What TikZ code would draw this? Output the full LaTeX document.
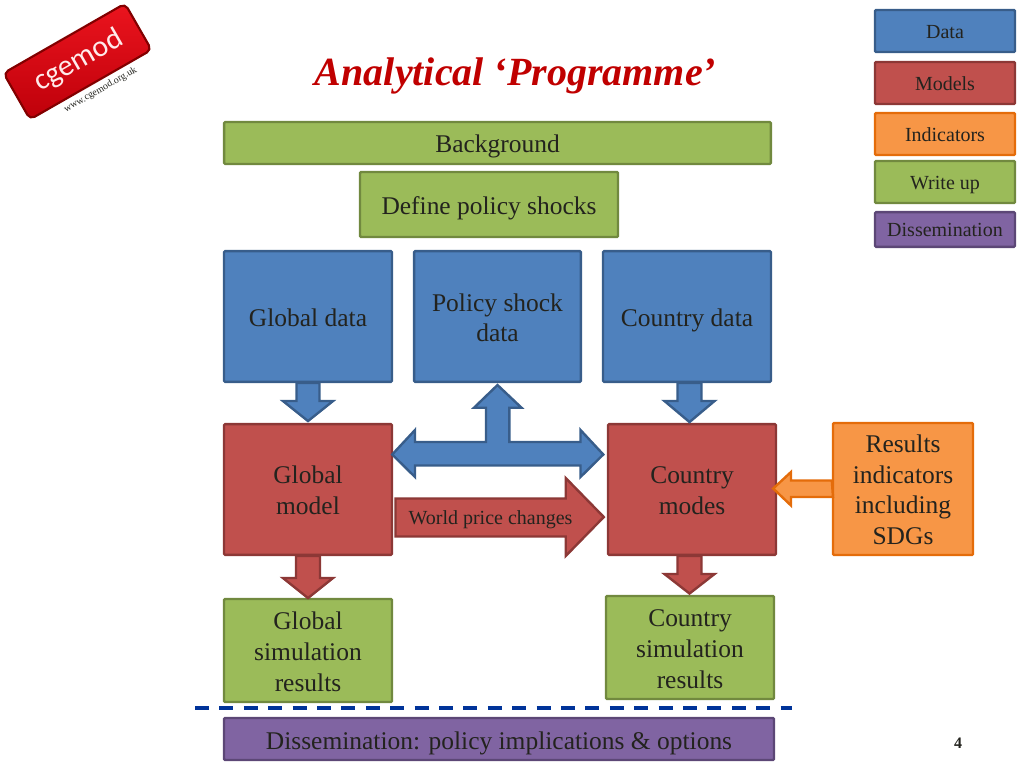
\documentclass[tikz,border=0pt]{standalone}
\usepackage{fontspec}
\setmainfont{Liberation Serif}
\newfontfamily\logofont{Carlito}
\usetikzlibrary{calc}
\definecolor{bluef}{RGB}{79,129,189}\definecolor{blued}{RGB}{56,93,138}
\definecolor{redf}{RGB}{192,80,77}\definecolor{redd}{RGB}{140,56,54}
\definecolor{greenf}{RGB}{155,187,89}\definecolor{greend}{RGB}{113,137,63}
\definecolor{purplef}{RGB}{128,100,162}\definecolor{purpled}{RGB}{92,71,118}
\definecolor{orangef}{RGB}{247,150,70}\definecolor{oranged}{RGB}{228,108,10}
\definecolor{titlered}{RGB}{192,0,0}\definecolor{dashblue}{RGB}{0,51,153}
\definecolor{inkc}{RGB}{35,35,30}
\definecolor{logotop}{RGB}{235,20,30}\definecolor{logobot}{RGB}{190,0,10}\definecolor{logoedge}{RGB}{130,0,0}
\tikzset{
 x=0.75pt,y=-0.75pt,
 boxbase/.style={rectangle,line width=1.8pt,rounded corners=0.8pt,inner sep=0pt,text=inkc,font=\fontsize{19.1}{23}\selectfont},
 bluebox/.style={boxbase,fill=bluef,draw=blued},
 redbox/.style={boxbase,fill=redf,draw=redd},
 greenbox/.style={boxbase,fill=greenf,draw=greend},
 purplebox/.style={boxbase,fill=purplef,draw=purpled},
 orangebox/.style={boxbase,fill=orangef,draw=oranged},
 legend/.style={font=\fontsize{15}{18}\selectfont,minimum width=105pt},
 bluearrow/.style={fill=bluef,draw=blued,line width=1.8pt,line join=miter},
 redarrow/.style={fill=redf,draw=redd,line width=1.8pt,line join=miter},
 orangearrow/.style={fill=orangef,draw=oranged,line width=1.8pt,line join=miter},
}
% text lowered inside its box, lines centred
\newcommand{\tx}[2][2.6pt]{\raisebox{-#1}[\height][\depth]{\begin{tabular}{@{}c@{}}#2\end{tabular}}}
% style, source anchor, x offset, half shaft, shaft length, half head, head length
\newcommand{\downblock}[7]{\draw[#1] ($(#2)+(#3,0)$) ++(-#4,0) -- ++(0,#5) -- ++(#4-#6,0) -- ++(#6,#7) -- ++(#6,-#7) -- ++(#4-#6,0) -- ++(0,-#5) -- cycle;}
\begin{document}
\begin{tikzpicture}
\useasboundingbox (0,0) rectangle (1024,768);
% logo
\node[rectangle,rotate=29.8,rounded corners=4pt,top color=logotop,bottom color=logobot,draw=logoedge,line width=1.6pt,minimum width=105pt,minimum height=40pt,inner sep=0pt] (logo) at (77.5,61.5) {};
\node[text=white!92!red,font=\logofont\fontsize{22.5}{24}\selectfont,rotate=29.8] (logoname) at (79,61) {cgemod};
\node[text=inkc,font=\fontsize{7.4}{10}\selectfont,rotate=29.8] (logourl) at (100.5,90) {www.cgemod.org.uk};
% title
\node[text=titlered,font=\bfseries\itshape\fontsize{30}{36}\selectfont] (title) at (515.5,76) {Analytical ‘Programme’};
% legend
\node[bluebox,legend,minimum height=31.5pt] (ldata) at (945,31) {\tx[2pt]{Data}};
\node[redbox,legend,minimum height=31.5pt] (lmodels) at (945,83) {\tx[2pt]{Models}};
\node[orangebox,legend,minimum height=31.5pt] (lind) at (945,134) {\tx[2pt]{Indicators}};
\node[greenbox,legend,minimum height=31.5pt] (lwrite) at (945,182) {\tx[2pt]{Write up}};
\node[purplebox,legend,minimum height=26pt] (ldiss) at (945,229.5) {\tx[2pt]{Dissemination}};
% main boxes
\node[greenbox,minimum width=410pt,minimum height=31.5pt] (bg) at (497.5,143) {\tx[2.6pt]{Background}};
\node[greenbox,minimum width=193.5pt,minimum height=48.75pt] (shocks) at (489,204.5) {\tx{Define policy shocks}};
\node[bluebox,minimum width=126pt,minimum height=98pt] (gdata) at (308,316.5) {\tx{Global data}};
\node[bluebox,minimum width=125pt,minimum height=98pt] (pdata) at (497.5,316.5) {\tx[3pt]{Policy shock\\data}};
\node[bluebox,minimum width=126pt,minimum height=98pt] (cdata) at (687,316.5) {\tx{Country data}};
\node[redbox,minimum width=126pt,minimum height=98pt] (gmodel) at (308,489.5) {\tx{Global\\model}};
\node[redbox,minimum width=126pt,minimum height=98pt] (cmodel) at (692,489.5) {\tx{Country\\modes}};
\node[orangebox,minimum width=105pt,minimum height=99pt] (res) at (903,489) {\tx{Results\\indicators\\including\\SDGs}};
\node[greenbox,minimum width=126pt,minimum height=77.25pt] (gsim) at (308,650.5) {\tx[3pt]{Global\\simulation\\results}};
\node[greenbox,minimum width=126pt,minimum height=77.25pt] (csim) at (690,647.5) {\tx[3pt]{Country\\simulation\\results}};
\node[purplebox,minimum width=412.5pt,minimum height=31.5pt] (diss) at (499,739) {\tx[3.3pt]{Dissemination: policy implications \& options}};
% block arrows
\downblock{bluearrow}{gdata.south}{0}{11.5}{18}{25}{20}
\downblock{bluearrow}{cdata.south}{2.5}{12}{18}{25}{21}
\downblock{redarrow}{gmodel.south}{0}{12}{22}{25}{20}
\downblock{redarrow}{cmodel.south}{-2.5}{12}{18}{25}{19.5}
% T-shaped arrow joining the two models and the policy data
\coordinate (tl) at ($(gmodel.east)+(-1,-35)$);
\coordinate (tr) at ($(cmodel.west)+(-3.5,-35)$);
\coordinate (ttop) at ($(pdata.south)+(0,2)$);
\draw[bluearrow] (ttop) -- (521.5,407.7) -- (509.3,407.7) -- (509.3,442) -- (580.5,442) -- (580.5,430) -- (tr) -- (580.5,477) -- (580.5,465.5) -- (415,465.5) -- (415,477) -- (tl) -- (415,430) -- (415,442) -- (486,442) -- (486,407.7) -- (474,407.7) -- cycle;
% world price arrow
\coordinate (wtip) at ($(cmodel.west)+(-3,27.5)$);
\draw[redarrow] (395.5,498.5) -- (565.7,498.5) -- (565.7,478) -- (wtip) -- (565.7,556) -- (565.7,536.5) -- (395.5,536.5) -- cycle;
\node[text=inkc,font=\fontsize{15}{18}\selectfont] (wlabel) at (490.5,520) {World price changes};
% indicators arrow
\coordinate (otip) at ($(cmodel.east)+(-4,-1)$);
\draw[orangearrow] (res.west) ++(0,-8.5) -- (791,480.5) -- (791,472) -- (otip) -- (791,505.5) -- (791,497) -- (833,497) -- cycle;
% dashed separator
\coordinate (dl) at (195,708);
\coordinate (dr) at (792,708);
\draw[dashblue,line width=3pt,dash pattern=on 10.5pt off 7.8pt] (dl) -- (dr);
% page number
\node[text=inkc,font=\bfseries\fontsize{12}{14}\selectfont] (pnum) at (958,743) {4};
\end{tikzpicture}
\end{document}
